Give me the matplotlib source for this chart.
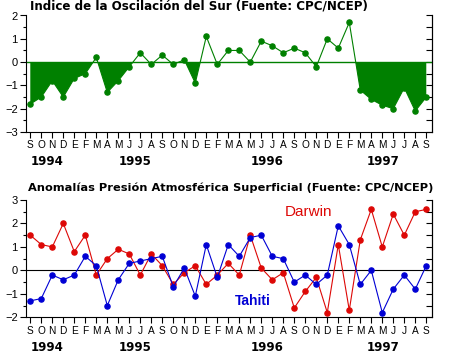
import numpy as np
import matplotlib.pyplot as plt

# months Sep 1994 .. Sep 1997
months = list("SOND") + list("EFMAMJJASOND") * 2 + list("EFMAMJJAS")
years = ["1994", "1995", "1996", "1997"]
year_pos = [0, 8, 20, 30.6]

soi = [-1.8, -1.5, -0.8, -1.5, -0.7, -0.5, 0.2, -1.3, -0.8, -0.2,
       0.4, -0.1, 0.3, -0.1, 0.1, -0.9, 1.1, -0.1, 0.5, 0.5,
       0.0, 0.9, 0.7, 0.4, 0.6, 0.4, -0.2, 1.0, 0.6, 1.7,
       -1.2, -1.6, -1.85, -2.0, -1.1, -2.1, -1.5]

darwin = [1.5, 1.1, 1.0, 2.0, 0.8, 1.5, -0.2, 0.5, 0.9, 0.7,
          -0.2, 0.7, 0.2, -0.6, -0.1, 0.2, -0.6, -0.2, 0.3, -0.2,
          1.5, 0.1, -0.4, -0.1, -1.6, -0.9, -0.3, -1.8, 1.1, -1.7,
          1.3, 2.6, 1.0, 2.4, 1.5, 2.5, 2.6]

tahiti = [-1.3, -1.2, -0.2, -0.4, -0.2, 0.6, 0.2, -1.5, -0.4, 0.3,
          0.4, 0.5, 0.6, -0.7, 0.1, -1.1, 1.1, -0.3, 1.1, 0.6,
          1.4, 1.5, 0.6, 0.5, -0.5, -0.2, -0.6, -0.2, 1.9, 1.1,
          -0.6, 0.0, -1.8, -0.8, -0.2, -0.8, 0.2]

green = "#008000"
red = "#dd0806"
blue = "#0000d4"

x = np.arange(len(months))
W, H = 453, 355
fig = plt.figure(figsize=(W / 100, H / 100), dpi=100)


def make_axes(top, bottom, ylo, yhi):
    ax = fig.add_axes([26 / W, 1 - bottom / H, (432 - 26) / W, (bottom - top) / H])
    ax.set_xlim(-0.39, 36.52)
    ax.set_ylim(ylo, yhi)
    ax.spines["top"].set_visible(False)
    for s in ["left", "right", "bottom"]:
        ax.spines[s].set_linewidth(0.8)
    ax.set_xticks(x)
    ax.set_xticklabels(months, fontsize=7.3, family="Liberation Sans")
    ax.set_yticks(np.arange(ylo, yhi + 1))
    ax.set_yticks(np.arange(ylo, yhi + 0.5, 0.5), minor=True)
    ax.tick_params(axis="x", direction="out", length=4, width=0.8, pad=2)
    ax.tick_params(axis="y", which="major", direction="out", length=4, width=0.8,
                   labelsize=8, pad=2)
    ax.tick_params(axis="y", which="minor", direction="out", length=2.5, width=0.8)
    for lab in ax.get_yticklabels():
        lab.set_family("Liberation Sans")
    ax2 = ax.secondary_yaxis("right")
    ax2.set_yticks(np.arange(ylo, yhi + 0.5, 0.5))
    ax2.tick_params(direction="in", length=4, width=0.8, labelright=False)
    ax2.spines["right"].set_linewidth(0.8)
    for xp, yr in zip(year_pos, years):
        ax.text(xp, -0.2, yr, transform=ax.get_xaxis_transform(), ha="left", va="top",
                fontsize=8.5, fontweight="bold", family="DejaVu Sans")
    return ax


# top panel: SOI
ax1 = make_axes(15.5, 132, -3, 2)
soi_arr = np.array(soi)
ax1.fill_between(x, soi_arr, 0, where=soi_arr < 0, interpolate=True,
                 color=green, linewidth=0)
ax1.axhline(0, color=green, lw=1)
ax1.plot(x, soi_arr, color=green, lw=0.8, marker="o", ms=3.7)
fig.text(30 / W, 1 - 6 / H, "Indice de la Oscilación del Sur (Fuente: CPC/NCEP)",
         ha="left", va="center", fontsize=8.6, fontweight="bold", family="DejaVu Sans")

# bottom panel: pressure anomalies
ax3 = make_axes(200, 317.3, -2, 3)
ax3.axhline(0, color="black", lw=0.8)
ax3.plot(x, darwin, color=red, lw=0.8, marker="o", ms=3.7)
ax3.plot(x, tahiti, color=blue, lw=0.8, marker="o", ms=3.7)
ax3.text(23.15, 2.5, "Darwin", color=red, fontsize=11, ha="left", va="center",
         family="Liberation Sans")
ax3.text(18.6, -1.3, "Tahiti", color=blue, fontsize=10, fontweight="bold", ha="left",
         va="center", family="Liberation Sans")
fig.text(28 / W, 1 - 188 / H, "Anomalías Presión Atmosférica Superficial (Fuente: CPC/NCEP)",
         ha="left", va="center", fontsize=8.2, fontweight="bold", family="DejaVu Sans")

fig.savefig("out.png", dpi=100)
